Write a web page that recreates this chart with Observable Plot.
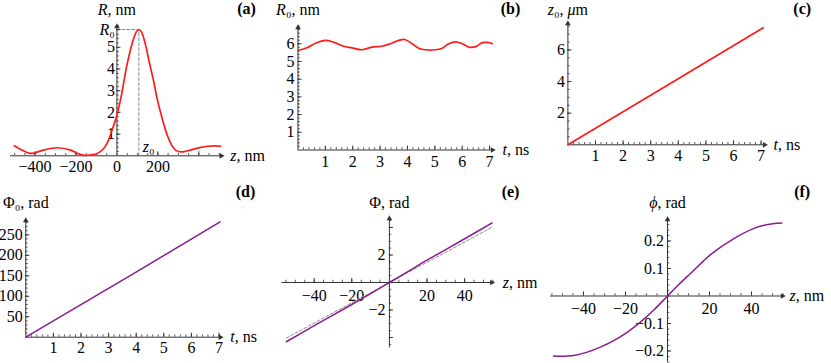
<!DOCTYPE html>
<html><head><meta charset="utf-8">
<script src="https://cdn.jsdelivr.net/npm/d3@7"></script>
<script src="https://cdn.jsdelivr.net/npm/@observablehq/plot@0.6"></script>
<style>
html,body{margin:0;padding:0;background:#fff}
#fig{position:relative;width:831px;height:363px;overflow:hidden;background:#fff}
#fig svg{position:absolute;max-width:none}
</style></head>
<body><div id="fig"></div>
<script>
// ---------- data ----------
// (a) R(z)
const zA = [-502,-460,-424,-390,-356,-291,-226,-190,-161,-130,-96,-70,-47,-25,0,21,47,75,95,107,120,140,156,180,197,220,246,270,287,311,340,376,410,441,475,506];
const rA = [0.46,0.24,0.11,0.17,0.27,0.37,0.26,0.10,0.02,0.04,0.11,0.28,0.6,1.15,1.88,2.75,4.1,5.2,5.72,5.82,5.7,5.1,4.4,3.4,2.6,1.75,0.95,0.45,0.25,0.18,0.22,0.31,0.39,0.44,0.46,0.44];
const z0A = 107, R0A = 5.82, z0LabelY = 0.42;
// (b) R0(t)
const tB = [0,0.33,0.64,1.0,1.3,1.67,1.97,2.33,2.7,3.07,3.37,3.68,3.9,4.17,4.41,4.66,5.02,5.27,5.51,5.75,6.0,6.25,6.5,6.74,6.98,7.1];
const rB = [5.62,5.77,6.03,6.19,6.09,5.86,5.77,5.66,5.81,5.86,6.0,6.19,6.24,6.0,5.75,5.66,5.66,5.75,6.0,6.11,6.0,5.81,5.84,6.06,6.06,6.0];
// (c) z0(t), µm
const tC = [0, 3.5, 7.08];
const zC = [0, 3.66, 7.4];
// (d) Phi0(t), rad
const tD = [0, 3.92, 7.04];
const pD = [0, 156, 281.6];
// (e) Phi(z) and dashed linear reference
const zE = [-54.8,-40,-20,-10,0,10,20,40,54.6];
const pE = [-4.31,-3.14,-1.6,-0.81,0,0.81,1.62,3.18,4.33];
const zEd = [-54.8, 54.6];
const pEd = [-4.04, 4.02];
// (f) phi(z)
const zF = [-54.3,-51,-44.6,-38.2,-32,-25.6,-19.2,-12.9,-6.4,0,5.4,10.8,21.1,31.4,40.6,47.2,54.4];
const pF = [-0.218,-0.219,-0.216,-0.204,-0.186,-0.162,-0.132,-0.095,-0.05,0,0.042,0.081,0.154,0.208,0.244,0.259,0.265];

// ---------- ticks and labels ----------
const xMajA = [-400,-200,200,400], xLabA = [-400,-200,0,200], xMinA = d3.range(-500, 501, 50);
const yMajA = [1,2,3,4,5], yLabA = [1,2,3,4,5], yMinA = d3.range(0.2, 6.01, 0.2);
const xMajB = [1,2,3,4,5,6,7], xLabB = [1,2,3,4,5,6,7], xMinB = d3.range(0.2, 7.19, 0.2);
const yMajB = [1,2,3,4,5,6], yLabB = [1,2,3,4,5,6], yMinB = d3.range(0.2, 7.01, 0.2);
const xMajC = [1,2,3,4,5,6,7], xLabC = [1,2,3,4,5,6,7], xMinC = d3.range(0.2, 7.19, 0.2);
const yMajC = [2,4,6], yLabC = [2,4,6], yMinC = d3.range(0.5, 7.8, 0.5);
const xMajD = [1,2,3,4,5,6,7], xLabD = [1,2,3,4,5,6,7], xMinD = d3.range(0.2, 7.11, 0.2);
const yMajD = [50,100,150,200,250], yLabD = [50,100,150,200,250], yMinD = d3.range(10, 290, 10);
const xMajE = [-40,-20,20,40], xLabE = [-40,-20,20,40], xMinE = d3.range(-55, 56, 5);
const yMajE = [-4,-2,2,4], yLabE = [-2,2], yMinE = d3.range(-4.5, 4.6, 0.5);
const xMajF = [-40,-20,20,40], xLabF = [-40,-20,20,40], xMinF = d3.range(-55, 56, 5);
const yMajF = [-0.2,-0.1,0.1,0.2], yLabF = [-0.2,-0.1,0.1,0.2], yMinF = d3.range(-0.24, 0.281, 0.02);

const titleA = [["R",1],[", nm",0]], xTitleA = [["z",1],[", nm",0]];
const titleB = [["R",1],["\u2080, nm",0]], xTitleB = [["t",1],[", ns",0]];
const titleC = [["z",1],["\u2080, ",0],["\u03bc",1],["m",0]], xTitleC = [["t",1],[", ns",0]];
const titleD = [["\u03a6\u2080, rad",0]], xTitleD = [["t",1],[", ns",0]];
const titleE = [["\u03a6, rad",0]], xTitleE = [["z",1],[", nm",0]];
const titleF = [["\u03d5",1],[", rad",0]], xTitleF = [["z",1],[", nm",0]];
const tags = ["(a)","(b)","(c)","(d)","(e)","(f)"];

// ---------- styling ----------
const AX = "#333333";
const RED = "#ff1a1a";
const PURPLE = "#8a1a8f";
const FONT = '"Liberation Serif", "Times New Roman", Times, serif';
const FS = 16;

const ctx = document.createElement("canvas").getContext("2d");
function tw(s, italic) {
  ctx.font = (italic ? "italic " : "") + FS + 'px "Liberation Serif", serif';
  return ctx.measureText(s).width;
}
function fmt(v) {
  const s = String(Math.abs(+v.toFixed(6)));
  return v < 0 ? "\u2212" + s : s;
}
const TXT = {fontSize: FS, fontFamily: FONT, fill: "black"};
function rich(parts, pos, {anchor = "middle", dx = 0, dy = 0} = {}) {
  const w = parts.map(([s, it]) => tw(s, it));
  const total = d3.sum(w);
  let off = anchor === "middle" ? -total / 2 : anchor === "end" ? -total : 0;
  return parts.map(([s, it], i) => {
    const m = Plot.text([s], {x: () => pos[0], y: () => pos[1], text: d => d, dx: dx + off, dy,
      textAnchor: "start", fontStyle: it ? "italic" : "normal", ...TXT});
    off += w[i];
    return m;
  });
}

function panel(s) {
  const mL = s.px[0] - s.left, mR = s.left + s.width - s.px[1];
  const mT = s.py[1] - s.top, mB = s.top + s.height - s.py[0];
  const kx = (s.px[1] - s.px[0]) / (s.xDomain[1] - s.xDomain[0]);
  const ky = (s.py[0] - s.py[1]) / (s.yDomain[1] - s.yDomain[0]);
  const [xa, xb] = s.xDomain, [ya, yb] = s.yDomain;
  const MAJ = 4, MIN = 2.3;
  const marks = [
    ...(s.extra || []),
    Plot.ruleY([0], {y: d => d, x1: () => xa, x2: () => xb - 2 / kx, stroke: AX, strokeWidth: 1}),
    Plot.ruleX([0], {x: d => d, y1: () => ya, y2: () => yb - 2 / ky, stroke: AX, strokeWidth: 1}),
    Plot.ruleX(s.xMin, {x: d => d, y1: () => 0, y2: () => MIN / ky, stroke: AX, strokeWidth: 0.8}),
    Plot.ruleX(s.xMaj, {x: d => d, y1: () => 0, y2: () => MAJ / ky, stroke: AX, strokeWidth: 1}),
    Plot.ruleY(s.yMin, {y: d => d, x1: () => 0, x2: () => MIN / kx, stroke: AX, strokeWidth: 0.8}),
    Plot.ruleY(s.yMaj, {y: d => d, x1: () => 0, x2: () => MAJ / kx, stroke: AX, strokeWidth: 1}),
    Plot.dot([0], {x: () => xb, y: () => 0, symbol: "triangle", r: 2.1, fill: AX, rotate: 90, dx: -2}),
    Plot.dot([0], {x: () => 0, y: () => yb, symbol: "triangle", r: 2.1, fill: AX, dy: 2}),
    Plot.text(s.xLab, {x: d => d, y: () => 0, dy: s.xLabDy, text: fmt, ...TXT}),
    Plot.text(s.yLab, {x: () => 0, y: d => d, dx: -s.yLabDx, textAnchor: "end", text: fmt, ...TXT}),
    ...rich(s.title, [0, yb], {anchor: "middle", dy: s.titleDy ?? -15}),
    ...rich(s.xTitle, [xb, 0], {anchor: "start", dx: s.xTitleDx}),
    Plot.text([s.tag], {frameAnchor: "top-left", dx: s.tagPos[0] - s.px[0], dy: s.tagPos[1] - s.py[1],
      text: d => d, fontWeight: "bold", textAnchor: "middle", lineAnchor: "middle", ...TXT}),
    ...s.curves
  ];
  const svg = Plot.plot({
    width: s.width, height: s.height,
    marginLeft: mL, marginRight: mR, marginTop: mT, marginBottom: mB,
    x: {domain: s.xDomain, axis: null},
    y: {domain: s.yDomain, axis: null},
    style: {fontFamily: FONT, fontSize: FS + "px", background: "transparent", overflow: "visible"},
    marks
  });
  svg.style.left = s.left + "px";
  svg.style.top = s.top + "px";
  document.getElementById("fig").appendChild(svg);
}

const rows = (xs, ys) => xs.map((x, i) => ({x, y: ys[i]}));
const line = (xs, ys, stroke, extra = {}) =>
  Plot.line(rows(xs, ys), {x: "x", y: "y", stroke, strokeWidth: 1.7, curve: "catmull-rom", ...extra});

// (a)
panel({
  left: 0, top: 0, width: 277, height: 180,
  px: [10, 222.7], py: [155.3, 24], xDomain: [-520, 519], yDomain: [0, 6.05],
  xMaj: xMajA, xMin: xMinA, xLab: xLabA, yMaj: [...yMajA, R0A], yMin: yMinA, yLab: yLabA,
  xLabDy: 11.5, yLabDx: 2, xTitleDx: 7, title: titleA, xTitle: xTitleA,
  tag: tags[0], tagPos: [246, 8.5],
  extra: [
    Plot.line([{x: 0, y: R0A}, {x: z0A, y: R0A}, {x: z0A, y: 0}], {x: "x", y: "y", stroke: "#8c8c8c", strokeWidth: 1, strokeDasharray: "3,2"})
  ],
  curves: [
    line(zA, rA, RED),
    ...rich([["R",1],["\u2080",0]], [0, R0A], {anchor: "end", dx: -2}),
    ...rich([["z",1],["\u2080",0]], [z0A, z0LabelY], {anchor: "start", dx: 4})
  ]
});
// (b)
panel({
  left: 277, top: 0, width: 263, height: 180,
  px: [297.5, 494], py: [149.5, 25], xDomain: [0, 7.18], yDomain: [0, 7.03],
  xMaj: xMajB, xMin: xMinB, xLab: xLabB, yMaj: yMajB, yMin: yMinB, yLab: yLabB,
  xLabDy: 11.5, yLabDx: 3.5, xTitleDx: 8, title: titleB, xTitle: xTitleB, titleDy: -16,
  tag: tags[1], tagPos: [510, 8.5],
  curves: [line(tB, rB, RED)]
});
// (c)
panel({
  left: 540, top: 0, width: 291, height: 180,
  px: [567.4, 766.1], py: [144.3, 21], xDomain: [0, 7.2], yDomain: [0, 7.8],
  xMaj: xMajC, xMin: xMinC, xLab: xLabC, yMaj: yMajC, yMin: yMinC, yLab: yLabC,
  xLabDy: 11.5, yLabDx: 3, xTitleDx: 7, title: titleC, xTitle: xTitleC, titleDy: -12,
  tag: tags[2], tagPos: [801.7, 8.5],
  curves: [line(tC, zC, RED, {curve: "linear"})]
});
// (d)
panel({
  left: 0, top: 180, width: 277, height: 183,
  px: [25.3, 221.8], py: [336.7, 218], xDomain: [0, 7.12], yDomain: [0, 290],
  xMaj: xMajD, xMin: xMinD, xLab: xLabD, yMaj: yMajD, yMin: yMinD, yLab: yLabD,
  xLabDy: 11, yLabDx: 3, xTitleDx: 8, title: titleD, xTitle: xTitleD, titleDy: -16,
  tag: tags[3], tagPos: [245, 191.5],
  curves: [line(tD, pD, PURPLE, {curve: "linear", strokeWidth: 1.5})]
});
// (e)
panel({
  left: 277, top: 180, width: 271, height: 183,
  px: [281.7, 493.3], py: [347.3, 216], xDomain: [-57, 55.5], yDomain: [-4.75, 4.8],
  xMaj: xMajE, xMin: xMinE, xLab: xLabE, yMaj: yMajE, yMin: yMinE, yLab: yLabE,
  xLabDy: 13, yLabDx: 4, xTitleDx: 9, title: titleE, xTitle: xTitleE, titleDy: -14,
  tag: tags[4], tagPos: [510, 191.5],
  curves: [
    line(zEd, pEd, "#8c8c8c", {curve: "linear", strokeWidth: 1, strokeDasharray: "3,2"}),
    line(zE, pE, PURPLE, {strokeWidth: 1.5})
  ]
});
// (f)
panel({
  left: 548, top: 180, width: 283, height: 183,
  px: [550, 784], py: [361.5, 217.1], xDomain: [-55.7, 55.7], yDomain: [-0.24, 0.285],
  xMaj: xMajF, xMin: xMinF, xLab: xLabF, yMaj: yMajF, yMin: yMinF, yLab: yLabF,
  xLabDy: 13, yLabDx: 3.5, xTitleDx: 5, title: titleF, xTitle: xTitleF,
  tag: tags[5], tagPos: [801.7, 191.5],
  curves: [line(zF, pF, PURPLE, {strokeWidth: 1.5})]
});
</script>
</body></html>
